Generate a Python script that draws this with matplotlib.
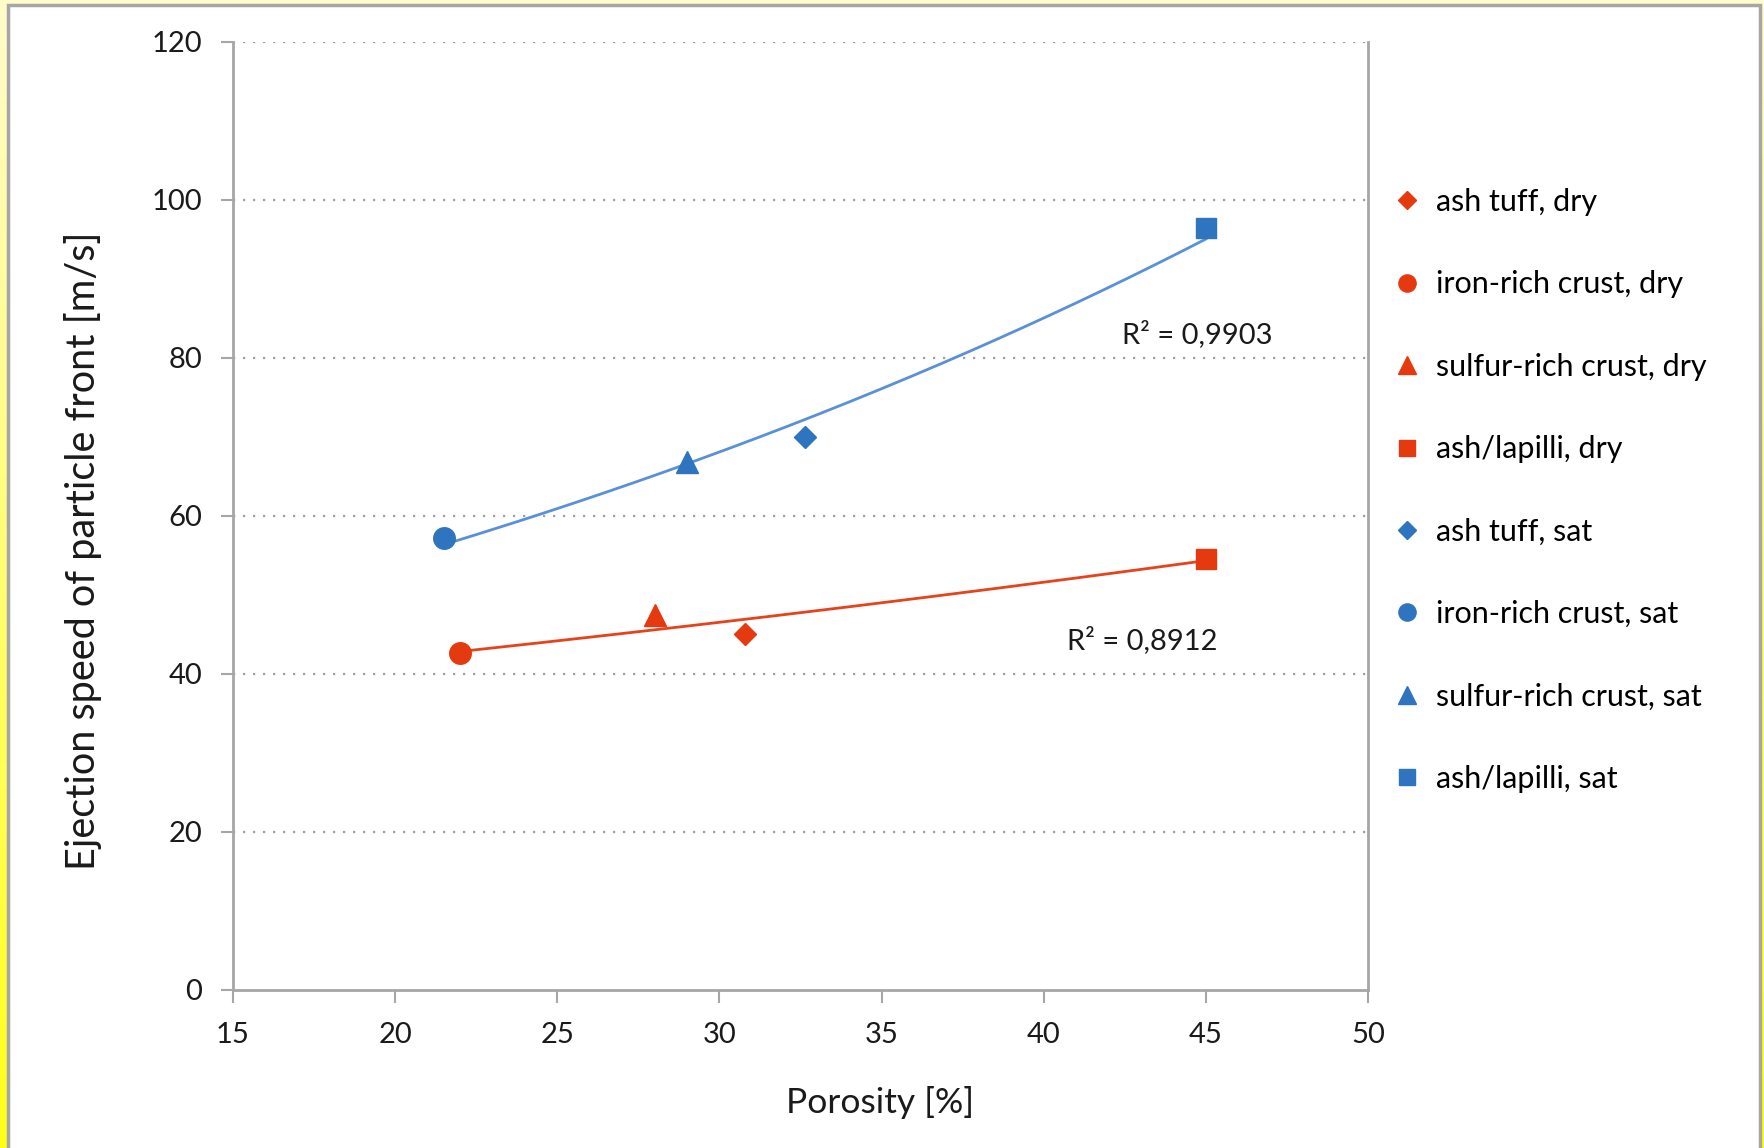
import matplotlib

matplotlib.use("Agg")
import matplotlib.pyplot as plt
import numpy as np
from matplotlib.colors import LinearSegmentedColormap
from matplotlib.patches import Rectangle

plt.rcParams["font.family"] = ["Lato", "DejaVu Sans"]

# Data
labels = ["ash tuff", "iron-rich crust", "sulfur-rich crust", "ash/lapilli"]
markers = ["D", "o", "^", "s"]
marker_sizes = [11, 15.5, 15.5, 14.5]

porosity_dry = [30.8, 22.0, 28.0, 45.0]
speed_dry = [45.1, 42.6, 47.5, 54.6]
porosity_sat = [32.65, 21.5, 29.0, 45.0]
speed_sat = [70.0, 57.2, 66.8, 96.4]

r2_dry = "R² = 0,8912"
r2_sat = "R² = 0,9903"

red = "#E5390F"
blue = "#2E74BE"
red_line = "#E8421A"
blue_line = "#5A90D8"
grey = "#A6A6A6"

fig = plt.figure(figsize=(17.64, 11.48), dpi=100)

# Background: yellow gradient frame with a white panel
bg = fig.add_axes([0, 0, 1, 1], zorder=-10)
cmap = LinearSegmentedColormap.from_list("bg", ["#FFFCCB", "#FFFF1A"])
bg.imshow(np.linspace(0, 1, 256).reshape(-1, 1), aspect="auto", cmap=cmap,
          extent=[0, 1, 0, 1])
bg.add_patch(Rectangle((8 / 1764, -0.01), (1760 - 8) / 1764, 1.01 - 5 / 1148,
                       facecolor="white", edgecolor=grey, linewidth=2.5))
bg.set_xlim(0, 1)
bg.set_ylim(0, 1)
bg.axis("off")

ax = fig.add_axes([233 / 1764, 158 / 1148, 1135 / 1764, 948 / 1148])

# Exponential trendlines (Excel-style fit on log values)
for xs, ys, col in [(porosity_dry, speed_dry, red_line), (porosity_sat, speed_sat, blue_line)]:
    b, ln_a = np.polyfit(xs, np.log(ys), 1)
    xf = np.linspace(min(xs), max(xs), 200)
    ax.plot(xf, np.exp(ln_a) * np.exp(b * xf), color=col, lw=2, zorder=2)

for lab, m, ms, x, y in zip(labels, markers, marker_sizes, porosity_dry, speed_dry):
    ax.plot([x], [y], ls="none", marker=m, ms=ms, color=red, mec=red,
            label=f"{lab}, dry", zorder=3)
for lab, m, ms, x, y in zip(labels, markers, marker_sizes, porosity_sat, speed_sat):
    ax.plot([x], [y], ls="none", marker=m, ms=ms, color=blue, mec=blue,
            label=f"{lab}, sat", zorder=3)

ax.text(47.05, 83.0, r2_sat, ha="right", va="center", fontsize=21, color="#1a1a1a")
ax.text(45.35, 44.3, r2_dry, ha="right", va="center", fontsize=21, color="#1a1a1a")

ax.set_xlim(15, 50)
ax.set_ylim(0, 120)
ax.set_xticks(np.arange(15, 51, 5))
ax.set_yticks(np.arange(0, 121, 20))
for yv in range(20, 121, 20):
    ax.axhline(yv, color="#A0A0A0", lw=1.6, ls=(0, (1, 3.5)), zorder=1)

for side in ["left", "bottom", "right"]:
    ax.spines[side].set_color(grey)
    ax.spines[side].set_linewidth(2)
ax.spines["top"].set_visible(False)
ax.tick_params(axis="both", colors=grey, length=9, width=1.5, labelsize=21,
               labelcolor="#1a1a1a", direction="out")
ax.tick_params(axis="x", pad=14)
ax.tick_params(axis="y", pad=13)

ax.set_xlabel("Porosity [%]", fontsize=25.5, color="#1a1a1a")
ax.xaxis.set_label_coords(0.5705, -0.101)
ax.set_ylabel("Ejection speed of particle front [m/s]", fontsize=28.5, color="#1a1a1a")
ax.yaxis.set_label_coords(-0.115, 0.463)

ax.legend(loc="center left", bbox_to_anchor=(1.014, 0.527), frameon=False,
          fontsize=22, markerscale=0.8, handlelength=0.7, handletextpad=0.6,
          labelspacing=1.78, borderaxespad=0)

fig.savefig("out.png", dpi=100)
